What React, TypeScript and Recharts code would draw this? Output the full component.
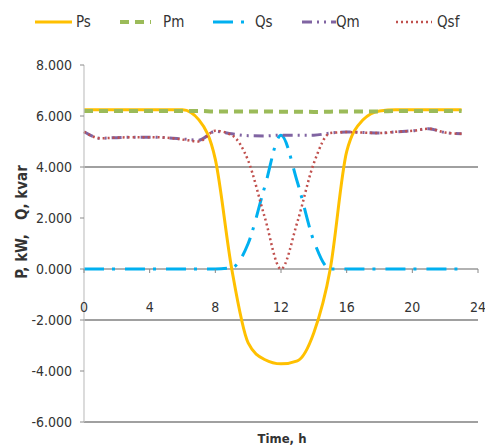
import React from 'react';
import { LineChart, Line, XAxis, YAxis, ReferenceLine, Legend } from 'recharts';

const hours = [0, 1, 2, 3, 4, 5, 6, 7, 8, 9, 10, 11, 12, 13, 14, 15, 16, 17, 18, 19, 20, 21, 22, 23];
const psValues = [6.25, 6.25, 6.25, 6.25, 6.25, 6.25, 6.25, 5.85, 4.3, 0.0, -2.9, -3.55, -3.72, -3.6, -2.5, 0.0, 4.6, 5.85, 6.2, 6.25, 6.25, 6.25, 6.25, 6.25];
const pmValues = [6.2, 6.2, 6.2, 6.2, 6.2, 6.2, 6.2, 6.2, 6.18, 6.18, 6.18, 6.18, 6.17, 6.17, 6.16, 6.17, 6.18, 6.18, 6.18, 6.2, 6.2, 6.2, 6.2, 6.2];
const qsValues = [0, 0, 0, 0, 0, 0, 0, 0, 0, 0.05, 1.0, 3.2, 5.25, 3.4, 1.1, 0, 0, 0, 0, 0, 0, 0, 0, 0];
const qmValues = [5.38, 5.13, 5.15, 5.17, 5.17, 5.15, 5.1, 5.05, 5.4, 5.3, 5.23, 5.22, 5.25, 5.25, 5.25, 5.33, 5.37, 5.35, 5.33, 5.38, 5.42, 5.5, 5.35, 5.3];
const qsfValues = [5.38, 5.13, 5.15, 5.17, 5.17, 5.15, 5.08, 5.0, 5.42, 5.25, 4.25, 2.05, 0, 1.85, 4.15, 5.33, 5.37, 5.35, 5.33, 5.38, 5.42, 5.5, 5.35, 5.3];
const xTicks = [0, 4, 8, 12, 16, 20, 24];
const yTicks = [-6, -4, -2, 0, 2, 4, 6, 8];

const data = hours.map((h, i) => ({
  h,
  Ps: psValues[i],
  Pm: pmValues[i],
  Qs: qsValues[i],
  Qm: qmValues[i],
  Qsf: qsfValues[i],
}));

const FONT = "'Liberation Sans Narrow', 'DejaVu Sans Condensed', 'Arial Narrow', sans-serif";

const seriesStyle: Record<string, { color: string; dash?: string; width: number; legendX: number; legendW: number; textX: number }> = {
  Ps: { color: '#FFC000', width: 3, legendX: 35, legendW: 37, textX: 76 },
  Pm: { color: '#9BBB59', dash: '9 6', width: 4, legendX: 120, legendW: 31, textX: 163 },
  Qs: { color: '#00B0F0', dash: '20 8 3 10', width: 3, legendX: 213, legendW: 33, textX: 255 },
  Qm: { color: '#8064A2', dash: '10 5 2 5 2 5', width: 3, legendX: 302, legendW: 34, textX: 336 },
  Qsf: { color: '#C0504D', dash: '2 3', width: 2.5, legendX: 396, legendW: 36, textX: 437 },
};

// vertical distance (px) from the bottom of the plot (-6) to the zero line (3/14 of 357 px)
const ZERO_OFFSET = 153;

const renderXTick = (props: any) => {
  const { x, y, payload } = props;
  const zy = y - ZERO_OFFSET;
  return (
    <g key={`xt-${payload.value}`}>
      <line x1={x} x2={x} y1={zy} y2={zy + 4} stroke="#888" strokeWidth={1} />
      <text x={x} y={zy + 43} textAnchor="middle" fontFamily={FONT} fontSize={14} fill="#333">
        {payload.value}
      </text>
    </g>
  );
};

const LegendContent = (props: any) => {
  const payload = props.payload || [];
  return (
    <div style={{ position: 'relative', height: 0, width: 485 }}>
      <svg width={485} height={40} style={{ position: 'absolute', left: 0, top: 0, overflow: 'visible' }}>
        {payload.map((p: any) => {
          const s = seriesStyle[p.value];
          return (
            <g key={p.value}>
              <line
                x1={s.legendX}
                x2={s.legendX + s.legendW}
                y1={22}
                y2={22}
                stroke={p.color}
                strokeWidth={s.width}
                strokeDasharray={s.dash}
              />
              <text x={s.textX} y={27} fontFamily={FONT} fontSize={15} fill="#333">
                {p.value}
              </text>
            </g>
          );
        })}
      </svg>
    </div>
  );
};

export default function App() {
  return (
    <div style={{ position: 'absolute', left: 0, top: 0, width: 485, height: 447, background: '#fff' }}>
      <LineChart width={485} height={447} data={data} margin={{ top: 65, right: 7, bottom: 5, left: 0 }}>
        <Legend
          verticalAlign="top"
          content={<LegendContent />}
          wrapperStyle={{ position: 'absolute', left: 0, top: 0, height: 0, width: 485 }}
        />
        <ReferenceLine y={4} stroke="#808080" strokeWidth={1.3} ifOverflow="extendDomain" />
        <ReferenceLine y={-2} stroke="#808080" strokeWidth={1.3} ifOverflow="extendDomain" />
        <ReferenceLine y={-6} stroke="#808080" strokeWidth={1.3} ifOverflow="extendDomain" />
        <ReferenceLine y={0} stroke="#999999" strokeWidth={1.3} ifOverflow="extendDomain" />
        <XAxis
          dataKey="h"
          type="number"
          domain={[0, 24]}
          ticks={xTicks}
          height={20}
          tickSize={0}
          tickMargin={0}
          axisLine={false}
          tickLine={false}
          tick={renderXTick}
          interval={0}
          label={{
            content: () => (
              <text x={282} y={443} textAnchor="middle" fontFamily={FONT} fontSize={13} fontWeight="bold" fill="#333">
                Time, h
              </text>
            ),
          }}
        />
        <YAxis
          type="number"
          domain={[-6, 8]}
          ticks={yTicks}
          width={84}
          interval={0}
          tickFormatter={(v: number) => v.toFixed(3)}
          axisLine={{ stroke: '#c4c4c4', strokeWidth: 1.2 }}
          tickLine={{ stroke: '#8a8a8a' }}
          tickSize={4}
          tickMargin={8}
          tick={{ fontFamily: FONT, fontSize: 14, fill: '#333' }}
          label={{
            content: () => (
              <text
                x={27}
                y={222}
                transform="rotate(-90 27 222)"
                textAnchor="middle"
                fontFamily={FONT}
                fontSize={15}
                fontWeight="bold"
                fill="#333"
                style={{ whiteSpace: 'pre' }}
              >
                {'P, kW,   Q, kvar'}
              </text>
            ),
          }}
        />
        {Object.keys(seriesStyle).map((k) => {
          const s = seriesStyle[k];
          return (
            <Line
              key={k}
              dataKey={k}
              type="monotone"
              stroke={s.color}
              strokeWidth={s.width}
              strokeDasharray={s.dash}
              dot={false}
              activeDot={false}
              isAnimationActive={false}
            />
          );
        })}
      </LineChart>
    </div>
  );
}
